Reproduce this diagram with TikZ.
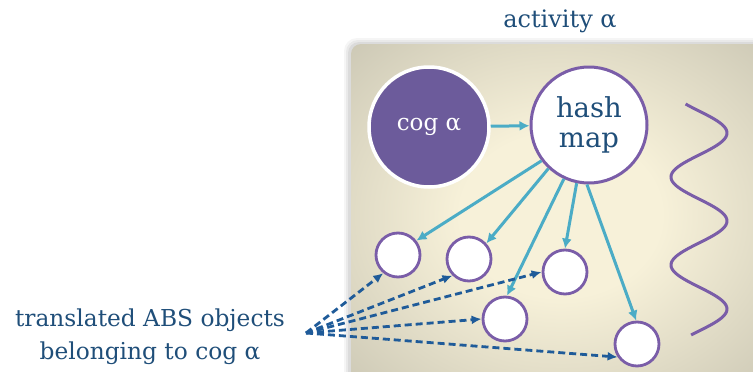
\documentclass[tikz,border=0pt]{standalone}
\usepackage{fontspec}
\setmainfont{DejaVu Serif}
\usetikzlibrary{arrows.meta}
\definecolor{bgedge}{HTML}{B3B0A0}
\definecolor{bgmid}{HTML}{F7F1D9}
\definecolor{purp}{HTML}{6C5B9B}
\definecolor{ring}{HTML}{7A5DA8}
\definecolor{cyanar}{HTML}{4BACC6}
\definecolor{dblue}{HTML}{1F4E79}
\definecolor{dashblue}{HTML}{1F5B99}
\pgfdeclareradialshading{bgshade}{\pgfpoint{0bp}{0bp}}{color(0bp)=(bgmid); color(12bp)=(bgmid); color(50bp)=(bgedge); color(100bp)=(bgedge)}
\begin{document}
\begin{tikzpicture}[x=1pt,y=-1pt,
  txt/.style={text=dblue, font=\fontsize{23.3}{33}\selectfont, inner sep=0pt},
  bigcog/.style={circle, fill=purp, draw=white, line width=3.5pt, minimum size=120pt, inner sep=0pt, text=white, font=\fontsize{23}{28}\selectfont},
  hmap/.style={circle, fill=white, draw=ring, line width=3pt, minimum size=116pt, inner sep=0pt, text=dblue, align=center, font=\fontsize{27.5}{30}\selectfont},
  obj/.style={circle, fill=white, draw=ring, line width=2.8pt, minimum size=44pt, inner sep=0pt},
  cyarrow/.style={draw=cyanar, line width=3pt, -{Latex[length=10pt,width=10pt]}},
  dasharrow/.style={draw=dashblue, line width=2.8pt, dash pattern=on 7pt off 4pt, -{Latex[length=10pt,width=9pt]}},
  wave/.style={draw=ring, line width=3pt}
]
\useasboundingbox (0,0) rectangle (753,372);
\begin{scope}
  \clip (0,0) rectangle (753,372);
  \fill[black, opacity=0.04, rounded corners=13pt] (344,38) rectangle (780,400);
  \fill[black, opacity=0.05, rounded corners=12pt] (346,40) rectangle (780,400);
  \fill[black, opacity=0.06, rounded corners=11pt] (348,42) rectangle (780,400);
  \shade[shading=bgshade, rounded corners=10pt] (351,44) rectangle (770,386);
\end{scope}

\node[txt, font=\fontsize{24}{28}\selectfont] (act) at (560,21) {activity α};

\node[bigcog] (cog) at (429,127) {cog α};
\node[hmap] (hm) at (589,125) {hash\\map};

\node[obj] (c1) at (398,255) {};
\node[obj] (c2) at (469,259) {};
\node[obj] (c3) at (565,272) {};
\node[obj] (c4) at (505,319) {};
\node[obj] (c5) at (637,344) {};

\draw[cyarrow] (cog) -- (hm);
\draw[cyarrow] (hm.-143) -- (c1.38);
\draw[cyarrow] (hm.-133) -- (c2.42);
\draw[cyarrow] (hm.-115) -- (c4.85);
\draw[cyarrow] (hm.-102) -- (c3.90);
\draw[cyarrow] (hm.-92) -- (c5.92);

\node[txt, align=center] (lbl) at (150,337) {translated ABS objects\\belonging to cog α};
\coordinate (src) at (306,333);
\draw[dasharrow] (src) -- (c1.-129);
\draw[dasharrow] (src) -- (c2.-135);
\draw[dasharrow] (src) -- (c3.180);
\draw[dasharrow] (src) -- (c4.180);
\draw[dasharrow] (src) -- (c5.-146);

\draw[wave] plot[domain=104:335, samples=150, variable=\t] ({699+28*cos((\t-133)/88*360)}, \t);
\end{tikzpicture}
\end{document}
